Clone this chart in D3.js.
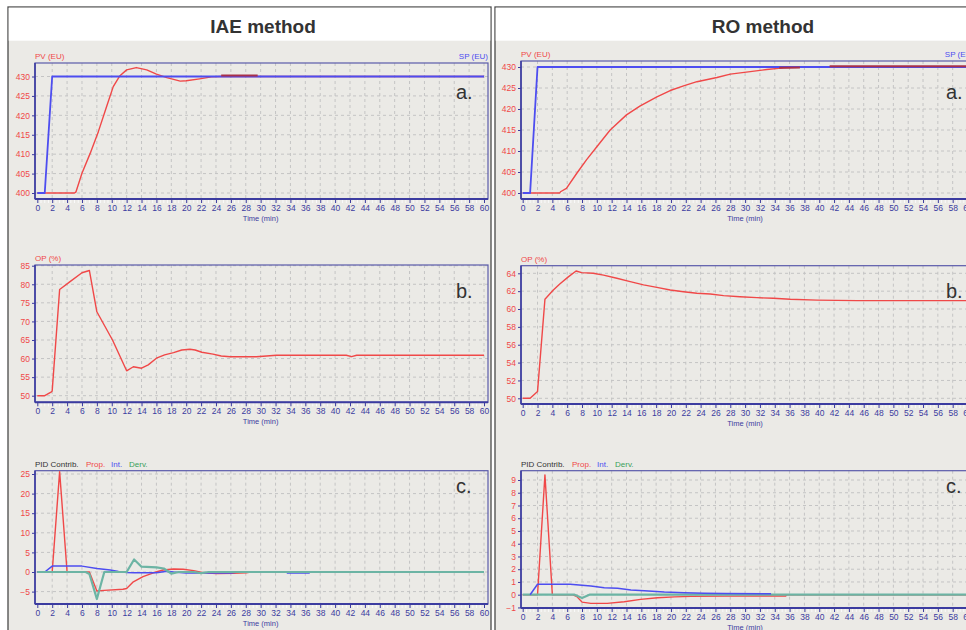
<!DOCTYPE html>
<html>
<head>
<meta charset="utf-8">
<script src="https://cdn.jsdelivr.net/npm/d3@7"></script>
<style>
  body { margin: 0; background: #fff; }
  svg { display: block; font-family: "Liberation Sans", Arial, sans-serif; }
</style>
</head>
<body>
<script>
// Time axis (min).
var timeTicks = d3.range(0, 61, 2);

// IAE method: PV / SP (EU).
var iaeSP = [[0,400],[1,400],[2,430],[60,430]];
var iaePV = [[0,400],[5,400],[5.2,400.3],[6,405.1],[7.1,410.2],[8.2,415.8],[9.3,422.2],[10.2,427.4],
             [11.1,430.2],[12,431.7],[13.3,432.3],[14.7,431.7],[16,430.6],[17.4,429.7],[19.2,428.8],
             [20,428.9],[21.8,429.4],[23.4,429.9],[24.5,430],[60,430]];
var iaePVHold = [[24.7,430.25],[29.6,430.25]];
var iaePVTicks = [400,405,410,415,420,425,430];

// IAE method: OP (%).
var iaeOP = [[0,50],[1,50],[1.9,51],[2,51.3],[3,78.6],[4.4,80.7],[6,83.1],[7,83.7],[8,72.6],[10.1,65],
             [12,56.7],[12.9,57.8],[14,57.4],[14.9,58.3],[16,60.1],[17.1,61],[18.3,61.6],[19.4,62.3],
             [20.5,62.5],[21.2,62.3],[22.1,61.7],[23.6,61.2],[24.7,60.7],[25.9,60.5],[29.4,60.5],
             [30.8,60.7],[32.1,60.9],[41.5,60.9],[42.2,60.5],[42.9,60.9],[60,60.9]];
var iaeOPTicks = [50,55,60,65,70,75,80,85];

// IAE method: PID contributions.
var iaeProp = [[0,0],[2,0],[3,25.6],[4,0],[7,0],[8,-4.85],[9,-4.7],[11.5,-4.4],[12,-4.2],[12.9,-2.5],
               [14.2,-1.2],[15.6,-0.2],[16.9,0.5],[18.3,0.77],[19.6,0.7],[21,0.34],[22.3,-0.2],
               [24.1,-0.4],[26.3,-0.3],[28.1,-0.2],[28.6,0],[60,0]];
var iaeInt = [[0,0],[1,0],[2,1.5],[6,1.5],[8,0.9],[9.8,0.5],[10.9,0.1],[12,-0.1],[13,-0.2],[16,-0.2],
              [17.4,0.2],[18.3,0],[20,-0.25],[26,-0.25],[27,0],[33.5,0],[33.6,-0.25],[36.5,-0.25],
              [36.6,0],[60,0]];
var iaeDerv = [[0,0],[6.5,0],[7,-0.5],[8,-6.9],[9,0],[12,0],[13,3.2],[14,1.36],[16,1.2],[17,0.9],
               [18,-0.4],[19,0],[21,0],[22,-0.3],[23,0],[60,0]];
var iaePIDTicks = [-5,0,5,10,15,20,25];

// RO method: PV / SP (EU).
var roSP = [[0,400],[1,400],[2,430],[60,430]];
var roPV = [[0,400],[5,400],[5.1,400.3],[5.9,401.1],[7.3,404.7],[8.6,407.9],[10,411],[11.8,415],
            [14,418.6],[15.8,420.7],[18.1,422.9],[19.9,424.4],[21.7,425.5],[23.5,426.5],[26.2,427.5],
            [28,428.3],[30.7,428.9],[32.9,429.4],[35.2,429.8],[37.4,429.9],[38,430],[60,430]];
var roPVHold1 = [[34.6,429.85],[37.4,429.9]];
var roPVHold2 = [[41.4,430.2],[60,430.2]];
var roPVTicks = [400,405,410,415,420,425,430];

// RO method: OP (%).
var roOP = [[0,50],[1,50],[2,50.75],[3,61.1],[4.1,62.1],[5,62.8],[6.15,63.6],[7.2,64.26],[7.95,64.07],
            [9.5,64],[10.9,63.8],[12.7,63.44],[14.5,63.06],[16.3,62.7],[18.1,62.43],[19.9,62.13],
            [21.7,61.94],[23.5,61.76],[25.3,61.68],[27.1,61.5],[29.3,61.38],[31.6,61.27],[33.8,61.2],
            [36.1,61.09],[39.7,61],[45.1,60.94],[60,60.94]];
var roOPTicks = [50,52,54,56,58,60,62,64];

// RO method: PID contributions (Int. trace ends at 33.5 min).
var roProp = [[0,0],[2,0],[3,9.4],[4,0],[6.7,0],[7.3,-0.15],[8,-0.58],[9.2,-0.68],[11.4,-0.68],
              [13.7,-0.55],[15.9,-0.37],[18.2,-0.24],[20.5,-0.17],[22.7,-0.13],[27.2,-0.11],
              [35.5,-0.1],[35.6,0],[60,0]];
var roInt = [[1,0],[2,0.82],[6.4,0.82],[9.2,0.68],[11,0.55],[12.8,0.5],[14.6,0.37],[16.4,0.31],
             [19.1,0.21],[21.8,0.16],[24.5,0.11],[27.2,0.09],[33.5,0.07]];
var roDerv = [[0,0],[7,0],[8,-0.25],[9,0],[60,0]];
var roPIDTicks = [-1,0,1,2,3,4,5,6,7,8,9];

// Colours.
var bg       = "#ebeae6",
    red      = "#f04848",
    blue     = "#4d4df0",
    darkRed  = "#a8304a",
    teal     = "#6cb4a4",
    axisBlue = "#3c3ca0",
    gridCol  = "#c4c4c4";

var svg = d3.select("body")
    .append("svg")
    .attr("width", 966)
    .attr("height", 630);

// Panels (white title band, grey body).
function panel(x, w, title, titleX) {
    svg.append("rect").attr("x", x).attr("y", 7).attr("width", w).attr("height", 640)
        .attr("fill", bg).attr("stroke", "#4a4a4a").attr("stroke-width", 1.3);
    svg.append("rect").attr("x", x + 0.7).attr("y", 7.7).attr("width", w - 1.4).attr("height", 33)
        .attr("fill", "#fff");
    svg.append("text").attr("x", titleX).attr("y", 33)
        .attr("text-anchor", "middle").attr("font-size", "19px").attr("font-weight", "bold")
        .attr("fill", "#333").text(title);
}
panel(8, 483, "IAE method", 263);
panel(495, 500, "RO method", 763);

// One chart box.
function chart(c) {
    var g = svg.append("g");
    var x = d3.scaleLinear().domain([0, 60]).range([c.tx0, c.tx1]);
    var y = d3.scaleLinear().domain([c.v0, c.v1]).range([c.y0, c.y1]);

    // Grid.
    g.selectAll(".vg").data(timeTicks.slice(1)).enter().append("line")
        .attr("x1", function(d) { return x(d); }).attr("x2", function(d) { return x(d); })
        .attr("y1", c.top).attr("y2", c.bottom)
        .attr("stroke", gridCol).attr("stroke-dasharray", "3,3");
    g.selectAll(".hg").data(c.yTicks).enter().append("line")
        .attr("x1", c.left).attr("x2", c.right)
        .attr("y1", function(d) { return y(d); }).attr("y2", function(d) { return y(d); })
        .attr("stroke", gridCol).attr("stroke-dasharray", "3,3");

    // Frame.
    g.append("rect").attr("x", c.left).attr("y", c.top)
        .attr("width", c.right - c.left).attr("height", c.bottom - c.top)
        .attr("fill", "none").attr("stroke", "#5a5aaa").attr("stroke-width", 1.2);

    // Series.
    var line = d3.line().x(function(d) { return x(d[0]); }).y(function(d) { return y(d[1]); });
    c.series.forEach(function(s) {
        g.append("path").datum(s.data).attr("d", line)
            .attr("fill", "none").attr("stroke", s.color).attr("stroke-width", s.w)
            .attr("stroke-linejoin", "round");
    });

    // Y axis.
    var yAxis = d3.axisLeft(y).tickValues(c.yTicks).tickSize(3).tickPadding(2);
    var ya = g.append("g").attr("transform", "translate(" + c.left + ",0)").call(yAxis);
    ya.select(".domain").attr("d", "M0," + c.top + "V" + c.bottom)
        .attr("stroke", axisBlue).attr("stroke-width", 1.6);
    ya.selectAll(".tick line").attr("stroke", axisBlue);
    ya.selectAll("text").attr("fill", red).attr("font-size", "8.5px")
        .attr("font-family", "Liberation Sans, Arial, sans-serif");

    // X axis (minor ticks first, lighter).
    var xm = g.append("g").attr("transform", "translate(0," + c.bottom + ")");
    xm.selectAll("line").data(d3.range(0, 60.1, 0.5).filter(function(d) { return d % 2 !== 0; }))
        .enter().append("line")
        .attr("x1", function(d) { return x(d); }).attr("x2", function(d) { return x(d); })
        .attr("y1", 1).attr("y2", 4).attr("stroke", "#fafafa");
    var xAxis = d3.axisBottom(x).tickValues(timeTicks).tickSize(4).tickPadding(2);
    var xa = g.append("g").attr("transform", "translate(0," + c.bottom + ")").call(xAxis);
    xa.select(".domain").attr("d", "M" + c.left + ",0H" + c.right)
        .attr("stroke", axisBlue).attr("stroke-width", 2);
    xa.selectAll(".tick line").attr("stroke", axisBlue);
    xa.selectAll("text").attr("fill", axisBlue).attr("font-size", "8.5px")
        .attr("font-family", "Liberation Sans, Arial, sans-serif");
    g.append("text").attr("x", (c.tx0 + c.tx1) / 2).attr("y", c.bottom + 22)
        .attr("text-anchor", "middle").attr("font-size", "7.5px").attr("fill", axisBlue)
        .text("Time (min)");

    // Labels above the box.
    c.labels.forEach(function(l) {
        g.append("text").attr("x", l.x).attr("y", c.top - 4)
            .attr("text-anchor", l.anchor || "start").attr("font-size", "8px")
            .attr("fill", l.color).text(l.text);
    });

    // Panel letter.
    g.append("text").attr("x", c.letterX).attr("y", c.letterY)
        .attr("font-size", "20px").attr("fill", "#333").text(c.letter);
}

// IAE charts.
chart({ left: 35, right: 488, top: 63, bottom: 199, tx0: 37.3, tx1: 484,
        v0: 400, v1: 430, y0: 193, y1: 76.5, yTicks: iaePVTicks,
        series: [{ data: iaePV, color: red, w: 1.4 }, { data: iaeSP, color: blue, w: 1.8 },
                 { data: iaePVHold, color: darkRed, w: 2 }],
        labels: [{ x: 35, text: "PV (EU)", color: red },
                 { x: 488, text: "SP (EU)", color: blue, anchor: "end" }],
        letter: "a.", letterX: 456, letterY: 99 });
chart({ left: 35, right: 488, top: 265, bottom: 402.3, tx0: 37.3, tx1: 484,
        v0: 50, v1: 85, y0: 395.7, y1: 265.7, yTicks: iaeOPTicks,
        series: [{ data: iaeOP, color: red, w: 1.4 }],
        labels: [{ x: 35, text: "OP (%)", color: red }],
        letter: "b.", letterX: 456, letterY: 298 });
chart({ left: 35, right: 488, top: 470.7, bottom: 604, tx0: 37.3, tx1: 484,
        v0: 0, v1: 25, y0: 572, y1: 474, yTicks: iaePIDTicks,
        series: [{ data: iaeProp, color: red, w: 1.4 }, { data: iaeInt, color: blue, w: 1.5 },
                 { data: iaeDerv, color: teal, w: 2.2 }],
        labels: [{ x: 35, text: "PID Contrib.", color: "#333" }, { x: 86, text: "Prop.", color: red },
                 { x: 111, text: "Int.", color: blue }, { x: 129, text: "Derv.", color: "#3aa05a" }],
        letter: "c.", letterX: 456, letterY: 493 });

// RO charts.
chart({ left: 521, right: 974, top: 61, bottom: 199, tx0: 522.7, tx1: 967.5,
        v0: 400, v1: 430, y0: 193, y1: 67, yTicks: roPVTicks,
        series: [{ data: roPV, color: red, w: 1.4 }, { data: roSP, color: blue, w: 1.8 },
                 { data: roPVHold1, color: darkRed, w: 2 }, { data: roPVHold2, color: darkRed, w: 2 }],
        labels: [{ x: 521, text: "PV (EU)", color: red },
                 { x: 974, text: "SP (EU)", color: blue, anchor: "end" }],
        letter: "a.", letterX: 946, letterY: 99 });
chart({ left: 521, right: 974, top: 265.7, bottom: 404, tx0: 522.7, tx1: 967.5,
        v0: 50, v1: 64, y0: 398.3, y1: 273.3, yTicks: roOPTicks,
        series: [{ data: roOP, color: red, w: 1.4 }],
        labels: [{ x: 521, text: "OP (%)", color: red }],
        letter: "b.", letterX: 946, letterY: 298 });
chart({ left: 521, right: 974, top: 470.7, bottom: 608, tx0: 522.7, tx1: 967.5,
        v0: 0, v1: 9, y0: 594.7, y1: 480, yTicks: roPIDTicks,
        series: [{ data: roProp, color: red, w: 1.4 }, { data: roDerv, color: teal, w: 2.2 },
                 { data: roInt, color: blue, w: 1.5 }],
        labels: [{ x: 521, text: "PID Contrib.", color: "#333" }, { x: 572, text: "Prop.", color: red },
                 { x: 597, text: "Int.", color: blue }, { x: 615, text: "Derv.", color: "#3aa05a" }],
        letter: "c.", letterX: 946, letterY: 493 });
</script>
</body>
</html>
